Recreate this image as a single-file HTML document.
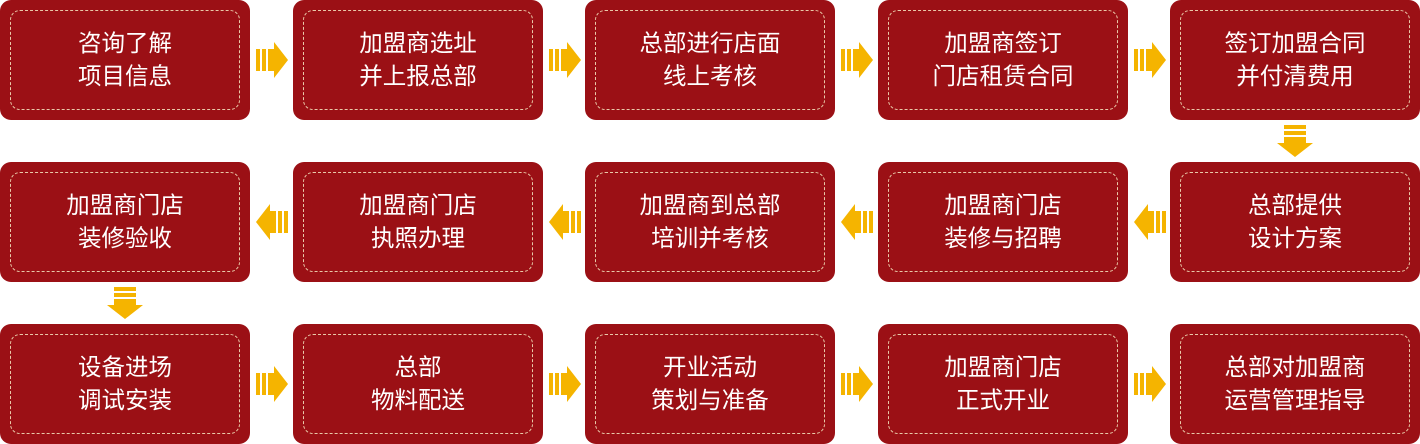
<!DOCTYPE html>
<html><head><meta charset="utf-8"><style>
html,body{margin:0;padding:0;background:#fff;}
body{width:1420px;height:444px;position:relative;overflow:hidden;font-family:"Liberation Sans","Noto Sans CJK SC",sans-serif;}
.b{position:absolute;width:250px;height:120px;background:#9b1015;border-radius:11px;}
.b div{position:absolute;left:10px;top:10px;width:228px;height:98px;border:1px dashed #e9c9a8;border-radius:10px;display:flex;align-items:center;justify-content:center;text-align:center;color:#fff;font-size:23.5px;line-height:33px;}
svg{position:absolute;}
</style></head><body>
<div class="b" style="left:0;top:0"><div>咨询了解<br>项目信息</div></div>
<div class="b" style="left:293px;top:0"><div>加盟商选址<br>并上报总部</div></div>
<div class="b" style="left:585px;top:0"><div>总部进行店面<br>线上考核</div></div>
<div class="b" style="left:878px;top:0"><div>加盟商签订<br>门店租赁合同</div></div>
<div class="b" style="left:1170px;top:0"><div>签订加盟合同<br>并付清费用</div></div>

<div class="b" style="left:0;top:162px"><div>加盟商门店<br>装修验收</div></div>
<div class="b" style="left:293px;top:162px"><div>加盟商门店<br>执照办理</div></div>
<div class="b" style="left:585px;top:162px"><div>加盟商到总部<br>培训并考核</div></div>
<div class="b" style="left:878px;top:162px"><div>加盟商门店<br>装修与招聘</div></div>
<div class="b" style="left:1170px;top:162px"><div>总部提供<br>设计方案</div></div>

<div class="b" style="left:0;top:324px"><div>设备进场<br>调试安装</div></div>
<div class="b" style="left:293px;top:324px"><div>总部<br>物料配送</div></div>
<div class="b" style="left:585px;top:324px"><div>开业活动<br>策划与准备</div></div>
<div class="b" style="left:878px;top:324px"><div>加盟商门店<br>正式开业</div></div>
<div class="b" style="left:1170px;top:324px"><div>总部对加盟商<br>运营管理指导</div></div>

<svg width="1420" height="444" style="left:0;top:0">
<defs>
<g id="r" fill="#f5b400"><rect x="0" y="-11" width="4" height="22"/><rect x="6" y="-11" width="4" height="22"/><polygon points="12,-11 18,-11 18,-18 32,0 18,18 18,11 12,11"/></g>
<g id="d" fill="#f5b400"><rect x="-11" y="0" width="22" height="4"/><rect x="-11" y="6" width="22" height="4"/><polygon points="-11,12 -11,18 -18,18 0,32 18,18 11,18 11,12"/></g>
</defs>
<use href="#r" x="256" y="60"/><use href="#r" x="549" y="60"/><use href="#r" x="841" y="60"/><use href="#r" x="1134" y="60"/>
<use href="#r" x="256" y="384"/><use href="#r" x="549" y="384"/><use href="#r" x="841" y="384"/><use href="#r" x="1134" y="384"/>
<g transform="translate(288,222) scale(-1,1)"><use href="#r"/></g>
<g transform="translate(581,222) scale(-1,1)"><use href="#r"/></g>
<g transform="translate(873,222) scale(-1,1)"><use href="#r"/></g>
<g transform="translate(1166,222) scale(-1,1)"><use href="#r"/></g>
<use href="#d" x="1295" y="125"/><use href="#d" x="125" y="287"/>
</svg>
</body></html>
